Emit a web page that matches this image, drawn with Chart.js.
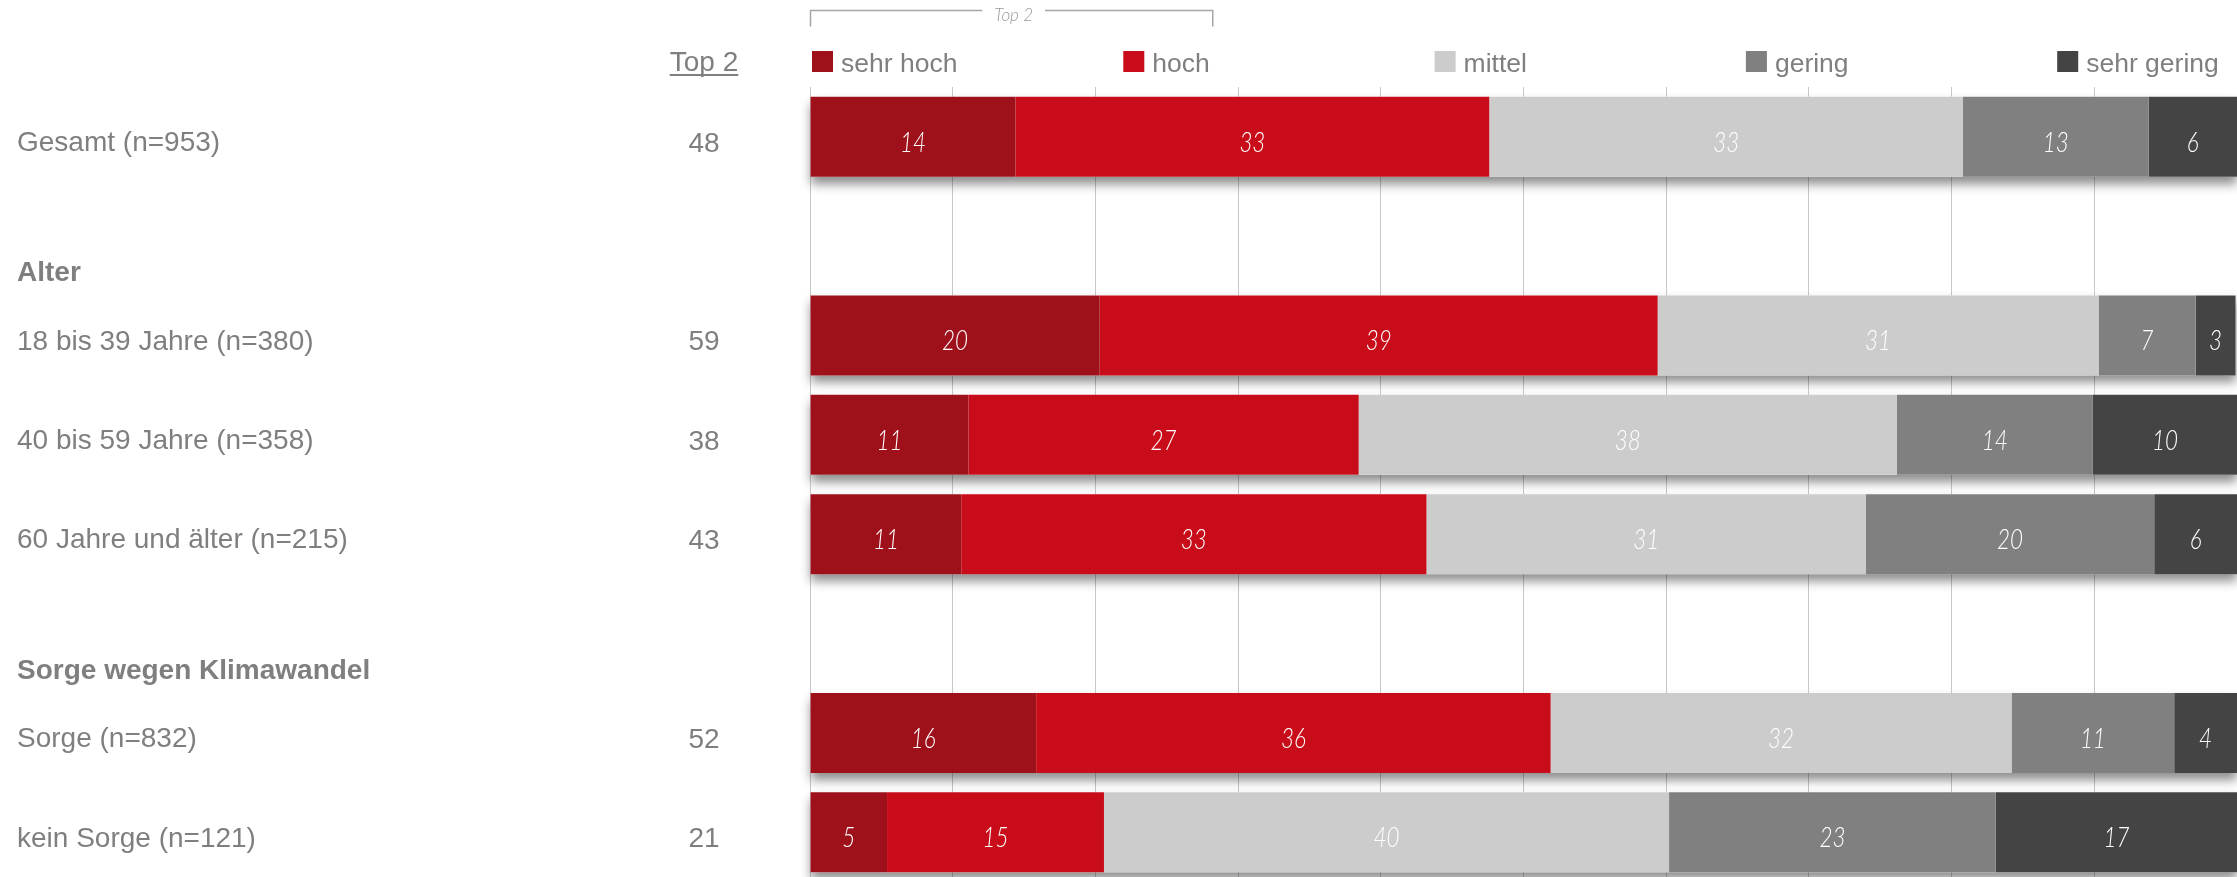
<!DOCTYPE html>
<html>
<head>
<meta charset="utf-8">
<script src="https://cdn.jsdelivr.net/npm/chart.js@4.4.1/dist/chart.umd.min.js"></script>
<style>
html,body{margin:0;padding:0;background:#fff;overflow:hidden;width:2237px;height:877px}
canvas{display:block}
</style>
</head>
<body>
<canvas id="c" width="2237" height="882"></canvas>
<script>
// ---- data ----
const categories = ['Gesamt (n=953)', '', '18 bis 39 Jahre (n=380)', '40 bis 59 Jahre (n=358)', '60 Jahre und älter (n=215)', '', 'Sorge (n=832)', 'kein Sorge (n=121)'];
const groupHeaders = [null, 'Alter', null, null, null, 'Sorge wegen Klimawandel', null, null];
const top2Values = [48, null, 59, 38, 43, null, 52, 21];
const seriesNames = ['sehr hoch', 'hoch', 'mittel', 'gering', 'sehr gering'];
const sehrHoch   = [14.4, null, 20.3, 11.1, 10.6, null, 15.85, 5.4];
const hoch       = [33.2, null, 39.1, 27.35, 32.6, null, 36.05, 15.2];
const mittel     = [33.2, null, 30.9, 37.7, 30.8, null, 32.3, 39.6];
const gering     = [13.0, null, 6.8, 13.75, 20.2, null, 11.4, 22.9];
const sehrGering = [6.2, null, 2.8, 10.1, 5.8, null, 4.4, 16.9];
const seriesColors = ['#9E111B', '#C80C19', '#CCCCCC', '#808080', '#444444'];
const top2Title = 'Top 2';

const TEXT_GREY = '#7f7f7f';
const SANS = "'Liberation Sans', Arial, sans-serif";

// bar drop shadow
const barShadow = {
  id: 'barShadow',
  beforeDatasetsDraw(chart) {
    const ctx = chart.ctx;
    const n = chart.data.datasets.length;
    const first = chart.getDatasetMeta(0);
    const last = chart.getDatasetMeta(n - 1);
    ctx.save();
    ctx.shadowColor = 'rgba(0,0,0,0.45)';
    ctx.shadowBlur = 10;
    ctx.shadowOffsetY = 7;
    ctx.fillStyle = '#ffffff';
    first.data.forEach((el, i) => {
      if (chart.data.datasets[0].data[i] == null) return;
      const a = el.getProps(['base', 'y', 'height'], true);
      const b = last.data[i].getProps(['x'], true);
      ctx.fillRect(a.base, a.y - a.height / 2, b.x - a.base, a.height);
    });
    ctx.restore();
  }
};

// value labels inside segments
const segLabels = {
  id: 'segLabels',
  afterDatasetsDraw(chart) {
    const ctx = chart.ctx;
    ctx.save();
    ctx.fillStyle = '#ffffff';
    ctx.font = "italic 300 28px Lato, 'Open Sans', sans-serif";
    ctx.textAlign = 'center';
    ctx.textBaseline = 'alphabetic';
    chart.data.datasets.forEach((ds, di) => {
      const meta = chart.getDatasetMeta(di);
      meta.data.forEach((el, i) => {
        const v = ds.data[i];
        if (v == null) return;
        const p = el.getCenterPoint();
        ctx.save();
        ctx.translate(p.x, p.y + 15);
        ctx.scale(0.8, 1);
        ctx.fillText(String(Math.round(v)), 0, 0);
        ctx.restore();
      });
    });
    ctx.restore();
  }
};

// legend, headers, top-2 column
const decorations = {
  id: 'decorations',
  afterDraw(chart) {
    const ctx = chart.ctx;
    const area = chart.chartArea;
    const yScale = chart.scales.y;
    ctx.save();

    // legend (evenly spread across plot width)
    const pitch = 311.3;
    ctx.font = '26.5px ' + SANS;
    ctx.textAlign = 'left';
    ctx.textBaseline = 'alphabetic';
    const legendX = [];
    chart.data.datasets.forEach((ds, i) => {
      const x0 = area.left + 2 + i * pitch;
      legendX.push(x0);
      ctx.fillStyle = ds.backgroundColor;
      ctx.fillRect(x0, area.top - 36, 21, 21);
      ctx.fillStyle = TEXT_GREY;
      ctx.fillText(ds.label, x0 + 29, area.top - 15);
    });

    // "Top 2" bracket above first two legend items
    const bx0 = area.left + 0.5;
    const bx1 = legendX[1] + 29 + ctx.measureText(chart.data.datasets[1].label).width + 3;
    const by = 10.5;
    ctx.font = "italic 300 17px Lato, 'Open Sans', sans-serif";
    const tcx = (bx0 + bx1) / 2 + 2;
    const tw = ctx.measureText(top2Title).width;
    ctx.strokeStyle = '#a6a6a6';
    ctx.lineWidth = 1.5;
    ctx.beginPath();
    ctx.moveTo(bx0, by + 16); ctx.lineTo(bx0, by); ctx.lineTo(tcx - tw / 2 - 12, by);
    ctx.moveTo(tcx + tw / 2 + 12, by); ctx.lineTo(bx1, by); ctx.lineTo(bx1, by + 16);
    ctx.stroke();
    ctx.fillStyle = '#999999';
    ctx.textAlign = 'center';
    ctx.fillText(top2Title, tcx, 20.5);

    // Top 2 column header
    const colX = 704;
    ctx.font = '28px ' + SANS;
    ctx.fillStyle = TEXT_GREY;
    ctx.textAlign = 'center';
    ctx.fillText(top2Title, colX, area.top - 16);
    const hw = ctx.measureText(top2Title).width;
    ctx.fillRect(colX - hw / 2, area.top - 13, hw, 2);

    // Top 2 values
    top2Values.forEach((v, i) => {
      if (v == null) return;
      ctx.fillText(String(v), colX, yScale.getPixelForValue(i) + 15);
    });

    // group headers
    ctx.font = 'bold 28px ' + SANS;
    ctx.textAlign = 'left';
    groupHeaders.forEach((h, i) => {
      if (!h) return;
      ctx.fillText(h, 17, yScale.getPixelForValue(i) + 45);
    });

    ctx.restore();
  }
};

const datasetsData = [sehrHoch, hoch, mittel, gering, sehrGering];

new Chart(document.getElementById('c'), {
  type: 'bar',
  data: {
    labels: categories,
    datasets: datasetsData.map((d, i) => ({
      label: seriesNames[i],
      data: d,
      backgroundColor: seriesColors[i],
      borderWidth: 0,
      categoryPercentage: 1,
      barPercentage: 0.805
    }))
  },
  options: {
    indexAxis: 'y',
    responsive: false,
    animation: false,
    devicePixelRatio: 1,
    layout: { padding: { left: 17, top: 87, right: 0, bottom: 0 } },
    plugins: { legend: { display: false }, tooltip: { enabled: false } },
    scales: {
      x: {
        stacked: true, min: 0, max: 100,
        ticks: { display: false, stepSize: 10 },
        grid: { color: '#c8c8c8', lineWidth: 1, drawTicks: false },
        border: { display: false },
        afterFit(scale) { scale.height = 0; }
      },
      y: {
        stacked: true,
        grid: { display: false },
        border: { display: false },
        ticks: {
          autoSkip: false, crossAlign: 'far', padding: 0, labelOffset: 6.5,
          color: TEXT_GREY, font: { family: SANS, size: 28 }
        },
        afterFit(scale) {
          scale.width = 793;
          scale.paddingTop = 0;
          scale.paddingBottom = 0;
        }
      }
    }
  },
  plugins: [barShadow, segLabels, decorations]
});
</script>
</body>
</html>
